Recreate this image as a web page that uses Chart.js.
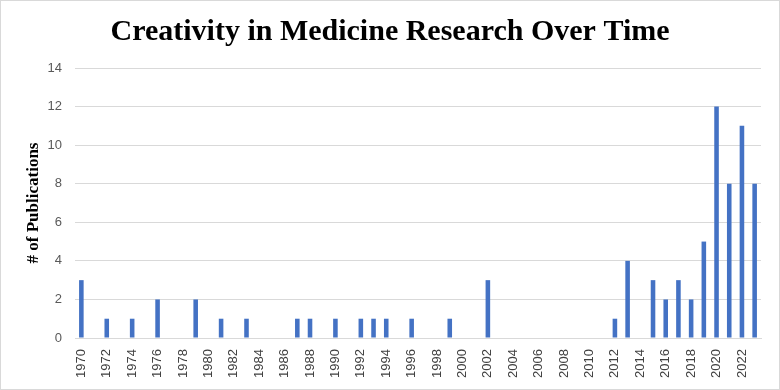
<!DOCTYPE html>
<html>
<head>
<meta charset="utf-8">
<script src="https://cdn.jsdelivr.net/npm/chart.js"></script>
<style>
html,body{margin:0;padding:0;background:#fff;}
#wrap{width:780px;height:390px;position:relative;}
</style>
</head>
<body>
<div id="wrap"><canvas id="c" width="780" height="390"></canvas></div>
<script>
const years = [];
for (let y = 1970; y <= 2023; y++) years.push(String(y));
const publications = [
  3,0,1,0,1,0,2,0,0,2,   // 1970-1979
  0,1,0,1,0,0,0,1,1,0,   // 1980-1989
  1,0,1,1,1,0,1,0,0,1,   // 1990-1999
  0,0,3,0,0,0,0,0,0,0,   // 2000-2009
  0,0,1,4,0,3,2,3,2,5,   // 2010-2019
  12,8,11,8              // 2020-2023
];
const yTicks = [0,2,4,6,8,10,12,14];

const frame = {
  id: 'frame',
  beforeDraw(chart) {
    const ctx = chart.ctx;
    ctx.save();
    ctx.fillStyle = '#ffffff';
    ctx.fillRect(0, 0, chart.width, chart.height);
    ctx.strokeStyle = '#d9d9d9';
    ctx.lineWidth = 1;
    ctx.strokeRect(0.5, 0.5, chart.width - 1, chart.height - 1);
    ctx.restore();
  }
};

new Chart(document.getElementById('c'), {
  type: 'bar',
  data: {
    labels: years,
    datasets: [{
      data: publications,
      backgroundColor: '#4472C4',
      barPercentage: 0.9,
      categoryPercentage: 0.4
    }]
  },
  options: {
    responsive: false,
    animation: false,
    layout: { padding: { left: 19, right: 19, top: 0, bottom: 4 } },
    plugins: {
      legend: { display: false },
      tooltip: { enabled: false },
      title: {
        display: true,
        text: 'Creativity in Medicine Research Over Time',
        color: '#000000',
        font: { family: '"Liberation Serif", "Times New Roman", serif', size: 30, weight: 'bold' },
        padding: { top: 14, bottom: 18 }
      }
    },
    scales: {
      x: {
        grid: { display: false },
        border: { display: true, color: '#d9d9d9' },
        ticks: {
          autoSkip: false,
          maxRotation: 90,
          minRotation: 90,
          color: '#404040',
          padding: 3,
          font: { family: '"Liberation Sans", Arial, sans-serif', size: 13 },
          callback: function(v, i) { return i % 2 === 0 ? this.getLabelForValue(v) : ''; }
        },
        afterFit(s) { s.height = 48; }
      },
      y: {
        min: 0,
        max: 14,
        afterBuildTicks(s) { s.ticks = yTicks.map(v => ({ value: v })); },
        grid: { color: '#d9d9d9', drawTicks: false },
        border: { display: false },
        ticks: {
          color: '#595959',
          padding: 13,
          font: { family: '"Liberation Sans", Arial, sans-serif', size: 13 }
        },
        title: {
          display: true,
          text: '# of Publications',
          color: '#000000',
          font: { family: '"Liberation Serif", "Times New Roman", serif', size: 17, weight: 'bold' },
          padding: { top: 4, bottom: 4 }
        },
        afterFit(s) { s.width = 56; }
      }
    }
  },
  plugins: [frame]
});
</script>
</body>
</html>
